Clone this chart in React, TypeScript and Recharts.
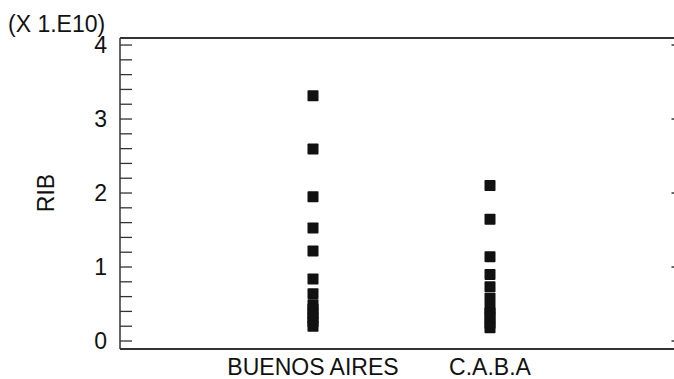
import React from 'react';
import { ScatterChart, Scatter, XAxis, YAxis, ReferenceLine } from 'recharts';

const categories = ['BUENOS AIRES', 'C.A.B.A'];
const buenosAiresValues = [3.315, 2.595, 1.95, 1.527, 1.216, 0.838, 0.64, 0.49, 0.43, 0.37, 0.31, 0.26, 0.2];
const cabaValues = [2.1, 1.645, 1.14, 0.9, 0.734, 0.577, 0.44, 0.38, 0.31, 0.24, 0.18];
const yTicks = [0, 0.2, 0.4, 0.6, 0.8, 1, 1.2, 1.4, 1.6, 1.8, 2, 2.2, 2.4, 2.6, 2.8, 3, 3.2, 3.4, 3.6, 3.8, 4];
const xTicks = [1, 2];

const seriesValues = [buenosAiresValues, cabaValues];
const data = seriesValues.flatMap((vals, i) => vals.map((v) => ({ x: i + 1, y: v })));

const FONT = '"Liberation Sans", Arial, sans-serif';
const INK = '#111';
const FS = 23;
const X_DOMAIN = [-0.0904, 3.096];
const Y_DOMAIN = [-0.108, 4.095];
const AXIS_LEFT = 120;
const CHART_W = 674;
const CHART_H = 379;

const LeftTick = (props: any) => {
  const { x, y, payload } = props;
  const v = payload.value;
  const isMajor = Math.abs(v - Math.round(v)) < 1e-6;
  return (
    <g>
      <line x1={AXIS_LEFT} x2={AXIS_LEFT + 12} y1={y} y2={y} stroke="#333" strokeWidth={1.3} />
      {isMajor && (
        <line x1={CHART_W - 2.5} x2={CHART_W} y1={y} y2={y} stroke="#333" strokeWidth={1.5} />
      )}
      {isMajor && (
        <text x={x} y={y} dy="0.36em" textAnchor="end" fontSize={FS} fontFamily={FONT} fill={INK}>
          {Math.round(v)}
        </text>
      )}
    </g>
  );
};

const BottomTick = (props: any) => {
  const { x, y, payload } = props;
  return (
    <text x={x} y={y} dy="0.88em" textAnchor="middle" fontSize={FS} fontFamily={FONT} fill={INK}>
      {categories[payload.value - 1]}
    </text>
  );
};

const SquareShape = (props: any) => {
  const { cx, cy } = props;
  return <rect x={cx - 5.5} y={cy - 5.5} width={11} height={11} fill={INK} rx={0.8} />;
};

export default function App() {
  return (
    <div style={{ position: 'absolute', left: 0, top: 0, width: CHART_W, height: CHART_H, overflow: 'hidden', background: '#fff' }}>
      <ScatterChart width={CHART_W} height={CHART_H} margin={{ top: 38, right: -10, bottom: 0, left: 0 }}>
        <XAxis
          xAxisId="bottom"
          dataKey="x"
          type="number"
          domain={X_DOMAIN}
          ticks={xTicks}
          tick={<BottomTick />}
          tickLine={false}
          tickSize={0}
          tickMargin={6}
          height={30}
          axisLine={{ stroke: '#333', strokeWidth: 1.8 }}
          allowDataOverflow
        />
        <YAxis
          yAxisId="left"
          dataKey="y"
          type="number"
          domain={Y_DOMAIN}
          ticks={yTicks}
          interval={0}
          tick={<LeftTick />}
          tickLine={false}
          tickSize={0}
          tickMargin={13}
          width={AXIS_LEFT}
          axisLine={{ stroke: '#333', strokeWidth: 1.5 }}
          allowDataOverflow
        />
        <ReferenceLine
          xAxisId="bottom"
          yAxisId="left"
          y={Y_DOMAIN[1]}
          stroke="#333"
          strokeWidth={1.8}
          ifOverflow="visible"
        />
        <Scatter
          data={data}
          xAxisId="bottom"
          yAxisId="left"
          fill={INK}
          shape={<SquareShape />}
          isAnimationActive={false}
        />
      </ScatterChart>
      <svg width={CHART_W} height={CHART_H} style={{ position: 'absolute', left: 0, top: 0, pointerEvents: 'none' }}>
        <text x={8} y={32} fontSize={FS} fontFamily={FONT} fill={INK}>
          (X 1.E10)
        </text>
        <text
          x={46}
          y={193}
          fontSize={FS}
          fontFamily={FONT}
          fill={INK}
          textAnchor="middle"
          dy="0.36em"
          transform="rotate(-90 46 193)"
        >
          RIB
        </text>
      </svg>
    </div>
  );
}
